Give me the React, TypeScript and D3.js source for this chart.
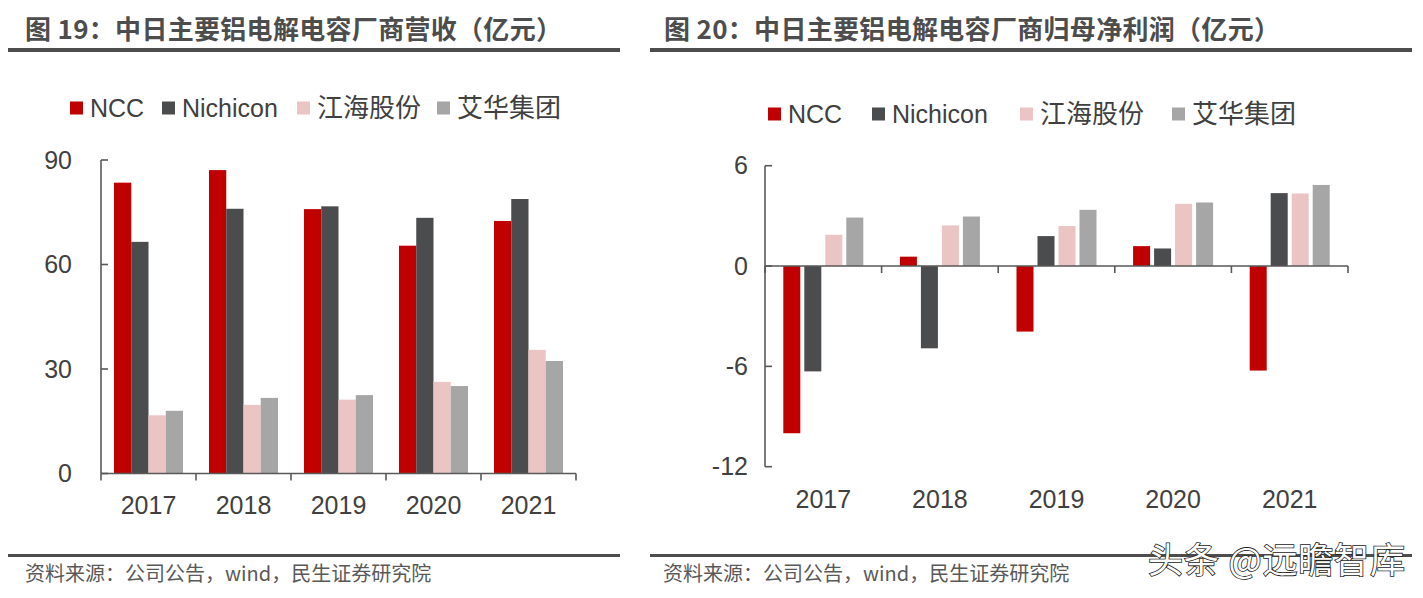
import React from "react";
import * as d3 from "d3";

const years = ["2017", "2018", "2019", "2020", "2021"];
const seriesNames = ["NCC", "Nichicon", "江海股份", "艾华集团"];
const seriesColors = ["#C00000", "#4B4C4E", "#EBC4C4", "#A6A6A6"];

// 营收（亿元）
const revNCC = [83.5, 87.1, 75.9, 65.4, 72.5];
const revNichicon = [66.5, 76.0, 76.7, 73.4, 78.8];
const revJianghai = [16.7, 19.7, 21.2, 26.3, 35.5];
const revAihua = [18.0, 21.7, 22.5, 25.1, 32.3];
const revTicks = [0, 30, 60, 90];

// 归母净利润（亿元）
const profNCC = [-10.0, 0.56, -3.92, 1.19, -6.25];
const profNichicon = [-6.3, -4.92, 1.79, 1.05, 4.36];
const profJianghai = [1.87, 2.43, 2.39, 3.72, 4.34];
const profAihua = [2.9, 2.96, 3.36, 3.8, 4.85];
const profTicks = [-12, -6, 0, 6];

const title1 = "图 19：中日主要铝电解电容厂商营收（亿元）";
const title2 = "图 20：中日主要铝电解电容厂商归母净利润（亿元）";
const source = "资料来源：公司公告，wind，民生证券研究院";
const watermark = "头条 @远瞻智库";

const AXIS = "#595959";
const TXT = "#404040";
const NUMFONT = "'Liberation Sans', Arial, 'Noto Sans CJK SC', sans-serif";
const CJK = "'Noto Sans CJK SC', 'Noto Sans', sans-serif";

type ChartProps = {
  series: number[][];
  ticks: number[];
  xRange: [number, number];
  yRange: [number, number];
  domain: [number, number];
  inner: [number, number];
  innerPad: number;
  yLabelX: number;
  xLabelY: number;
};

function BarChart(p: ChartProps) {
  const x = d3.scaleBand<string>().domain(years).range(p.xRange).padding(0);
  const xi = d3
    .scaleBand<string>()
    .domain(seriesNames)
    .range(p.inner)
    .paddingInner(p.innerPad)
    .paddingOuter(0);
  const y = d3.scaleLinear().domain(p.domain).range(p.yRange);
  const y0 = y(0);
  const edges = [...years.map((yr) => x(yr) as number), p.xRange[1]];
  return (
    <g>
      {p.series.map((vals, si) =>
        vals.map((v, i) => {
          const bx = (x(years[i]) as number) + (xi(seriesNames[si]) as number);
          const top = Math.min(y(v), y0);
          const h = Math.abs(y(v) - y0);
          return (
            <rect
              key={`${si}-${i}`}
              x={bx}
              y={top}
              width={xi.bandwidth()}
              height={h}
              fill={seriesColors[si]}
            />
          );
        })
      )}
      {/* y axis */}
      <line x1={p.xRange[0]} x2={p.xRange[0]} y1={y(p.domain[1])} y2={y(p.domain[0])} stroke={AXIS} strokeWidth={1.6} />
      {p.ticks.map((t) => (
        <g key={t}>
          <line x1={p.xRange[0]} x2={p.xRange[0] + 7} y1={y(t)} y2={y(t)} stroke={AXIS} strokeWidth={1.6} />
          <text
            x={p.yLabelX}
            y={y(t)}
            dy="0.35em"
            textAnchor="end"
            fontFamily={NUMFONT}
            fontSize={25}
            fill={TXT}
          >
            {t}
          </text>
        </g>
      ))}
      {/* x axis */}
      <line x1={p.xRange[0]} x2={p.xRange[1]} y1={y0} y2={y0} stroke={AXIS} strokeWidth={1.6} />
      {edges.map((ex, i) => (
        <line key={i} x1={ex} x2={ex} y1={y0} y2={y0 + 7} stroke={AXIS} strokeWidth={1.6} />
      ))}
      {years.map((yr) => (
        <text
          key={yr}
          x={(x(yr) as number) + x.bandwidth() / 2}
          y={p.xLabelY}
          textAnchor="middle"
          fontFamily={NUMFONT}
          fontSize={25}
          fill={TXT}
        >
          {yr}
        </text>
      ))}
    </g>
  );
}

function Legend({ xs, y }: { xs: number[]; y: number }) {
  return (
    <g>
      {seriesNames.map((n, i) => (
        <g key={n}>
          <rect x={xs[i]} y={y - 6.5} width={13} height={13} fill={seriesColors[i]} />
          <text
            x={xs[i] + 20}
            y={y}
            dy="0.36em"
            fontFamily={NUMFONT}
            fontSize={i >= 2 ? 26 : 25}
            fill={TXT}
          >
            {n}
          </text>
        </g>
      ))}
    </g>
  );
}

export default function App() {
  return (
    <svg
      width={1423}
      height={598}
      style={{ position: "absolute", left: 0, top: 0, background: "#fff" }}
    >
      <rect width={1423} height={598} fill="#fff" />
      {/* titles */}
      <text x={25} y={39} fontFamily={CJK} fontWeight={700} fontSize={26} fill="#4D4D4D" textLength={537} lengthAdjust="spacing">
        {title1}
      </text>
      <rect x={8} y={48} width={612} height={4} fill="#4D4D4D" />
      <text x={664} y={39} fontFamily={CJK} fontWeight={700} fontSize={26} fill="#4D4D4D" textLength={616} lengthAdjust="spacing">
        {title2}
      </text>
      <rect x={650} y={48} width={762} height={4} fill="#4D4D4D" />

      <Legend xs={[70, 162, 297, 437]} y={108} />
      <Legend xs={[768, 872, 1020, 1172]} y={114} />

      <BarChart
        series={[revNCC, revNichicon, revJianghai, revAihua]}
        ticks={revTicks}
        xRange={[101, 576]}
        yRange={[473.5, 160]}
        domain={[0, 90]}
        inner={[13, 82]}
        innerPad={0}
        yLabelX={72}
        xLabelY={514}
      />
      <BarChart
        series={[profNCC, profNichicon, profJianghai, profAihua]}
        ticks={profTicks}
        xRange={[765, 1348]}
        yRange={[466.7, 165.7]}
        domain={[-12, 6]}
        inner={[18.3, 98.3]}
        innerPad={0.19}
        yLabelX={748}
        xLabelY={508}
      />

      {/* bottom rules and source */}
      <rect x={8} y={554} width={612} height={3} fill="#4D4D4D" />
      <rect x={650} y={554} width={762} height={3} fill="#4D4D4D" />
      <text x={25} y={581} fontFamily={CJK} fontSize={20} fill="#595959">
        {source}
      </text>
      <text x={663} y={581} fontFamily={CJK} fontSize={20} fill="#595959">
        {source}
      </text>
      <text
        x={1148}
        y={573}
        fontFamily={CJK}
        fontSize={35}
        fill="#fff"
        stroke="#222"
        strokeWidth={1.6}
        paintOrder="stroke"
        textLength={257}
        lengthAdjust="spacing"
      >
        {watermark}
      </text>
    </svg>
  );
}
